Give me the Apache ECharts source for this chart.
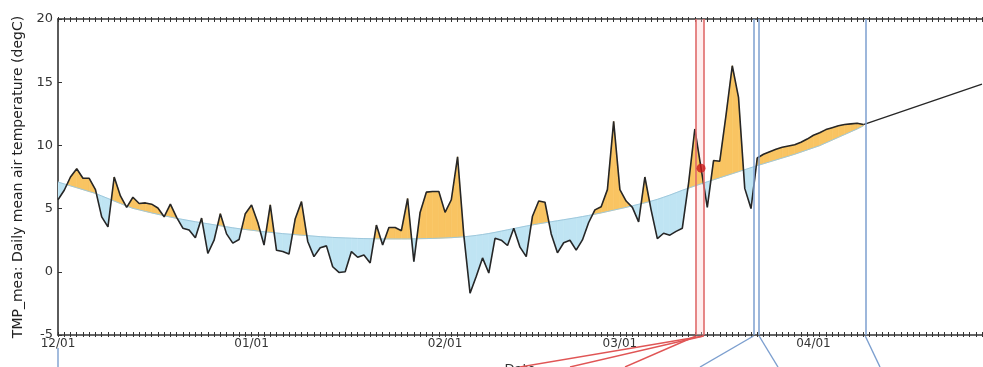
<!DOCTYPE html>
<html>
<head>
<meta charset="utf-8">
<script src="https://cdn.jsdelivr.net/npm/echarts@6/dist/echarts.min.js"></script>
<style>
html,body{margin:0;padding:0;background:#fff;}
#chart{width:983px;height:367px;}
</style>
</head>
<body>
<div id="chart"></div>
<script>
// ---- data (day index 0 = 12/01) ----
const observed = [
  5.7, 6.45, 7.5, 8.15, 7.4, 7.4, 6.5, 4.35, 3.55, 7.5,
  6.0, 5.1, 5.9, 5.4, 5.45, 5.35, 5.05, 4.35, 5.35, 4.3,
  3.45, 3.3, 2.7, 4.25, 1.45, 2.5, 4.6, 3.0, 2.27, 2.55,
  4.6, 5.28, 3.9, 2.12, 5.3, 1.7, 1.6, 1.4, 4.2, 5.55,
  2.4, 1.2, 1.9, 2.05, 0.4, -0.05, 0.0, 1.6, 1.15, 1.33,
  0.7, 3.7, 2.12, 3.5, 3.5, 3.25, 5.8, 0.8, 4.7, 6.3,
  6.35, 6.35, 4.7, 5.7, 9.1, 2.9, -1.7, -0.35, 1.1, -0.1,
  2.65, 2.5, 2.08, 3.45, 1.95, 1.2, 4.4, 5.6, 5.5, 3.0,
  1.5, 2.3, 2.5, 1.72, 2.52, 3.9, 4.9, 5.15, 6.5, 11.9,
  6.5, 5.6, 5.1, 3.95, 7.5, 4.9, 2.62, 3.05, 2.9, 3.2,
  3.45, 7.0, 11.3, 8.2, 5.1, 8.8, 8.75, 12.4, 16.3, 13.8,
  6.6, 5.0, 9.0, 9.3, 9.5, 9.7, 9.85, 9.95, 10.05, 10.25,
  10.5, 10.8, 11.0, 11.25, 11.4, 11.55, 11.65, 11.7, 11.75, 11.65
];
const climatology = [
  7.10, 6.95, 6.80, 6.65, 6.50, 6.35, 6.20, 6.00, 5.80, 5.60,
  5.40, 5.20, 5.02, 4.90, 4.78, 4.66, 4.55, 4.44, 4.33, 4.23,
  4.14, 4.05, 3.96, 3.88, 3.80, 3.72, 3.64, 3.56, 3.48, 3.41,
  3.35, 3.29, 3.23, 3.17, 3.12, 3.07, 3.02, 2.98, 2.94, 2.90,
  2.86, 2.82, 2.78, 2.75, 2.72, 2.70, 2.68, 2.66, 2.64, 2.63,
  2.62, 2.61, 2.60, 2.60, 2.60, 2.60, 2.60, 2.61, 2.62, 2.63,
  2.64, 2.66, 2.68, 2.70, 2.73, 2.77, 2.82, 2.88, 2.95, 3.03,
  3.12, 3.22, 3.32, 3.42, 3.52, 3.62, 3.71, 3.80, 3.88, 3.96,
  4.04, 4.12, 4.20, 4.28, 4.37, 4.46, 4.56, 4.66, 4.77, 4.88,
  4.99, 5.10, 5.22, 5.34, 5.46, 5.59, 5.73, 5.90, 6.07, 6.26,
  6.45, 6.62, 6.79, 6.96, 7.12, 7.28, 7.44, 7.60, 7.76, 7.92,
  8.08, 8.24, 8.40, 8.55, 8.70, 8.85, 9.00, 9.15, 9.30, 9.47,
  9.64, 9.81, 9.98, 10.20, 10.42, 10.64, 10.86, 11.08, 11.30, 11.55
];
const extensionDays = [129, 148];
const extensionValues = [11.65, 14.85];
const monthTickDays = [0, 31, 62, 90, 121];
const monthTickLabels = ['12/01', '01/01', '02/01', '03/01', '04/01'];
const redLineDays = [102.2, 103.4];
const blueLineDays = [111.4, 112.3, 129.3];
const markerDay = 103;
const yTicks = [-5, 0, 5, 10, 15, 20];
const yAxisTitle = 'TMP_mea: Daily mean air temperature (degC)';
const xAxisTitle = 'Date';

// ---- styling ----
const ORANGE = '#f9c462';
const BLUE = '#bfe4f3';
const AXIS = '#333333';
const X_MAX = 148;

const chart = echarts.init(document.getElementById('chart'), null, {renderer: 'canvas'});

const fillData = [];
for (let i = 0; i < observed.length - 1; i++) {
  fillData.push([i, observed[i], climatology[i], observed[i + 1], climatology[i + 1]]);
}

function renderFill(params, api) {
  const i = api.value(0);
  const o0 = api.value(1), c0 = api.value(2), o1 = api.value(3), c1 = api.value(4);
  const P = (x, v) => api.coord([x, v]);
  const d0 = o0 - c0, d1 = o1 - c1;
  const children = [];
  const poly = (pts, col) => children.push({
    type: 'polygon', shape: {points: pts},
    style: {fill: col, stroke: col, lineWidth: 0.6}
  });
  if (d0 * d1 >= 0) {
    poly([P(i, o0), P(i + 1, o1), P(i + 1, c1), P(i, c0)], (d0 + d1) >= 0 ? ORANGE : BLUE);
  } else {
    const t = d0 / (d0 - d1);
    const a = P(i, o0), b = P(i + 1, o1);
    const X = [a[0] + t * (b[0] - a[0]), a[1] + t * (b[1] - a[1])];
    poly([a, X, P(i, c0)], d0 > 0 ? ORANGE : BLUE);
    poly([X, b, P(i + 1, c1)], d1 > 0 ? ORANGE : BLUE);
  }
  return {type: 'group', children};
}

function xAxisBase(pos) {
  return {
    type: 'value', min: 0, max: X_MAX, position: pos, gridIndex: 0,
    splitLine: {show: false}
  };
}

const xAxes = [
  Object.assign(xAxisBase('bottom'), {
    interval: 1,
    axisLine: {show: true, onZero: false, lineStyle: {color: AXIS, width: 1.6}},
    axisTick: {show: false},
    axisLabel: {
      show: true, margin: 3, fontSize: 12, color: '#333', fontFamily: 'DejaVu Sans',
      formatter: v => { const k = monthTickDays.indexOf(v); return k >= 0 ? monthTickLabels[k] : ''; }
    },
    name: xAxisTitle, nameLocation: 'middle', nameGap: 28,
    nameTextStyle: {fontSize: 13, color: '#333', fontFamily: 'DejaVu Sans'}
  }),
  Object.assign(xAxisBase('bottom'), {
    interval: 1, axisLine: {show: false, onZero: false},
    axisTick: {show: true, inside: true, length: 3, lineStyle: {color: AXIS, width: 1}},
    axisLabel: {show: false}
  }),
  Object.assign(xAxisBase('bottom'), {
    interval: 1, axisLine: {show: false, onZero: false},
    axisTick: {show: true, inside: false, length: 2, lineStyle: {color: AXIS, width: 1}},
    axisLabel: {show: false}
  }),
  Object.assign(xAxisBase('top'), {
    interval: 1,
    axisLine: {show: true, onZero: false, lineStyle: {color: AXIS, width: 1.6}},
    axisTick: {show: true, inside: true, length: 3, lineStyle: {color: AXIS, width: 1}},
    axisLabel: {show: false}
  }),
  Object.assign(xAxisBase('top'), {
    interval: 1, axisLine: {show: false, onZero: false},
    axisTick: {show: true, inside: false, length: 2, lineStyle: {color: AXIS, width: 1}},
    axisLabel: {show: false}
  })
];

const option = {
  animation: false,
  backgroundColor: '#ffffff',
  grid: {left: 58, right: 1, top: 19, bottom: 32, containLabel: false, outerBoundsMode: 'none'},
  xAxis: xAxes,
  yAxis: {
    type: 'value', min: yTicks[0], max: yTicks[yTicks.length - 1], interval: 5,
    axisLine: {show: true, onZero: false, lineStyle: {color: AXIS, width: 1.6}},
    axisTick: {show: true, inside: true, length: 4, lineStyle: {color: AXIS}},
    axisLabel: {fontSize: 13, color: '#333', margin: 5, fontFamily: 'DejaVu Sans'},
    splitLine: {show: false},
    name: yAxisTitle, nameLocation: 'middle', nameRotate: 90, nameGap: 30,
    nameTextStyle: {fontSize: 14, color: '#222', fontFamily: 'DejaVu Sans'}
  },
  series: [
    {
      type: 'custom', name: 'anomaly', renderItem: renderFill, data: fillData,
      encode: {x: 0, y: [1, 2]}, clip: true, z: 1, silent: true
    },
    {
      type: 'line', name: 'climatology', showSymbol: false, symbol: 'none', z: 2,
      data: climatology.map((v, i) => [i, v]),
      lineStyle: {color: '#9ec8dc', width: 1}
    },
    {
      type: 'line', name: 'observed', showSymbol: false, symbol: 'none', z: 3,
      data: observed.map((v, i) => [i, v]),
      lineStyle: {color: '#262626', width: 1.6},
      markLine: {
        silent: true, symbol: 'none', label: {show: false},
        data: [
          ...redLineDays.map(d => ({xAxis: d, lineStyle: {color: '#e06a6a', width: 1.6, type: 'solid'}})),
          ...blueLineDays.map(d => ({xAxis: d, lineStyle: {color: '#7c9fcf', width: 1.5, type: 'solid'}}))
        ]
      },
      markArea: {
        silent: true,
        itemStyle: {color: 'rgba(255,205,205,0.35)'},
        data: [[{xAxis: redLineDays[0]}, {xAxis: redLineDays[1]}]]
      }
    },
    {
      type: 'line', name: 'extension', showSymbol: false, symbol: 'none', z: 3,
      data: extensionDays.map((d, k) => [d, extensionValues[k]]),
      lineStyle: {color: '#262626', width: 1.3}
    },
    {
      type: 'scatter', name: 'marker', z: 5, symbolSize: 9,
      data: [[markerDay, observed[markerDay]]],
      itemStyle: {color: '#cc1a1a'}
    }
  ]
};
chart.setOption(option);

// connector lines below the axis (decoration from the larger figure)
const yBottom = chart.convertToPixel({yAxisIndex: 0}, yTicks[0]);
const H = 367;
const connectors = [
  {day: redLineDays[1], endX: 520, color: '#e05555'},
  {day: redLineDays[1], endX: 570, color: '#e05555'},
  {day: redLineDays[0], endX: 625, color: '#e05555'},
  {day: blueLineDays[0], endX: 700, color: '#7c9fcf'},
  {day: blueLineDays[1], endX: 778, color: '#7c9fcf'},
  {day: blueLineDays[2], endX: 880, color: '#7c9fcf'}
];
const graphics = connectors.map(c => {
  const x0 = chart.convertToPixel({xAxisIndex: 0}, c.day);
  return {
    type: 'line', silent: true, z: 10,
    shape: {x1: x0, y1: yBottom + 1, x2: c.endX, y2: H},
    style: {stroke: c.color, lineWidth: 1.4}
  };
});
const x0left = chart.convertToPixel({xAxisIndex: 0}, monthTickDays[0]);
graphics.push({
  type: 'line', silent: true, z: 10,
  shape: {x1: x0left, y1: yBottom + 13, x2: x0left, y2: H},
  style: {stroke: '#7c9fcf', lineWidth: 1.4}
});
chart.setOption({graphic: graphics});
</script>
</body>
</html>
